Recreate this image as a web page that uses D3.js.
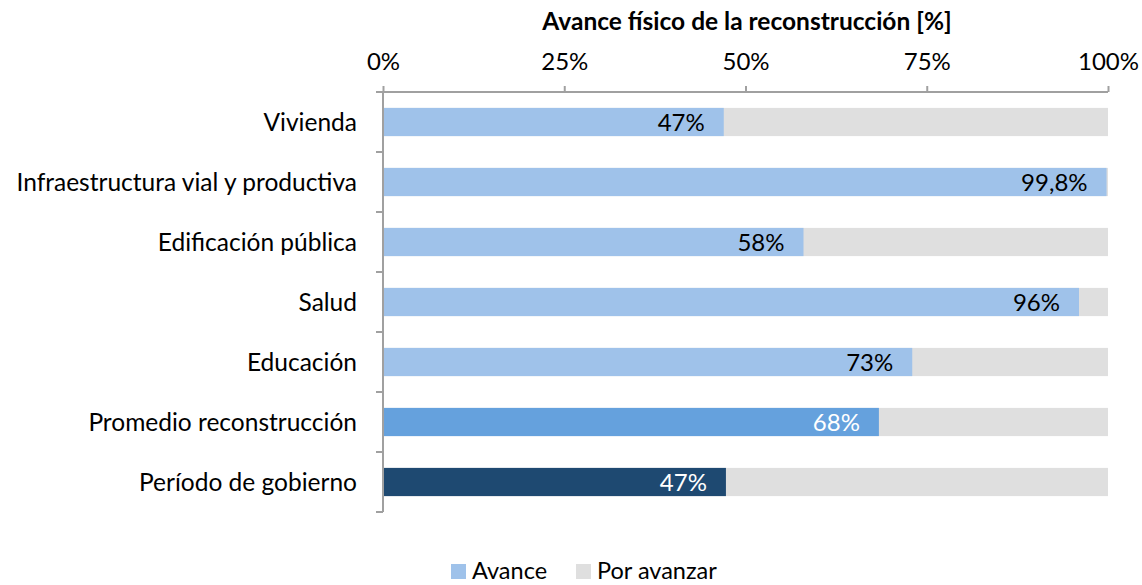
<!DOCTYPE html>
<html>
<head>
<meta charset="utf-8">
<script src="https://cdn.jsdelivr.net/npm/d3@7"></script>
<style>
  body { margin: 0; background: #fff; }
  text { font-family: Lato, "Open Sans", sans-serif; }
</style>
</head>
<body>
<div id="canvas"></div>
<script>
"use strict"

/* Data */
let categories = ["Vivienda", "Infraestructura vial y productiva", "Edificación pública",
    "Salud", "Educación", "Promedio reconstrucción", "Período de gobierno"];
let avance = [47, 99.8, 58, 96, 73, 68.4, 47.3];
let avanceLabels = ["47%", "99,8%", "58%", "96%", "73%", "68%", "47%"];
let xTicks = [0, 25, 50, 75, 100];
let legendNames = ["Avance", "Por avanzar"];

/* Drawing configuration */
let svgWidth = 1142;
let svgHeight = 585;
let margin = { top: 92, right: 34, bottom: 73, left: 383 };

let barColors = ["#9fc2ea", "#9fc2ea", "#9fc2ea", "#9fc2ea", "#9fc2ea", "#65a1dd", "#1e4971"];
let labelColors = ["#000", "#000", "#000", "#000", "#000", "#fff", "#fff"];
let restColor = "#dfdfdf";
let axisColor = "#a0a0a0";

let svg = d3.select("#canvas")
    .append("svg")
    .attr("width", svgWidth)
    .attr("height", svgHeight);

let xScale = d3.scaleLinear()
    .domain([0, 100])
    .range([margin.left, svgWidth - margin.right]);

let yScale = d3.scaleBand()
    .domain(categories)
    .range([margin.top, svgHeight - margin.bottom])
    .paddingInner(0.53)
    .paddingOuter(0.265);

// remaining part (gray) - full 100% background
svg.selectAll("rect.rest")
    .data(categories)
    .join("rect")
    .attr("class", "rest")
    .attr("x", xScale(0))
    .attr("y", function(d) { return yScale(d); })
    .attr("width", xScale(100) - xScale(0))
    .attr("height", yScale.bandwidth())
    .attr("fill", restColor);

// progress part
svg.selectAll("rect.avance")
    .data(categories)
    .join("rect")
    .attr("class", "avance")
    .attr("x", xScale(0))
    .attr("y", function(d) { return yScale(d); })
    .attr("width", function(d, i) { return xScale(avance[i]) - xScale(0); })
    .attr("height", yScale.bandwidth())
    .attr("fill", function(d, i) { return barColors[i]; });

// value labels, inside end
svg.selectAll("text.val")
    .data(categories)
    .join("text")
    .attr("class", "val")
    .attr("x", function(d, i) { return xScale(avance[i]) - 19; })
    .attr("y", function(d) { return yScale(d) + yScale.bandwidth() / 2; })
    .attr("dy", "0.36em")
    .attr("text-anchor", "end")
    .style("font-size", "24px")
    .attr("fill", function(d, i) { return labelColors[i]; })
    .text(function(d, i) { return avanceLabels[i]; });

/* Top axis */
let xAxis = d3.axisTop(xScale)
    .tickValues(xTicks)
    .tickSize(6)
    .tickPadding(16)
    .tickFormat(function(d) { return d + "%"; });

let gx = svg.append("g")
    .attr("transform", "translate(0," + margin.top + ")")
    .call(xAxis);
gx.select(".domain").attr("stroke", axisColor).attr("stroke-width", 2)
    .attr("d", "M" + xScale(0) + ",0H" + xScale(100));
gx.selectAll(".tick line").attr("stroke", axisColor).attr("stroke-width", 2);
gx.selectAll(".tick text")
    .attr("fill", "#000")
    .style("font-family", "Lato, sans-serif")
    .style("font-size", "24px");

/* Left axis with ticks between categories */
let step = yScale.step();
let boundaries = d3.range(categories.length + 1).map(function(i) {
    return yScale(categories[0]) - yScale.paddingOuter() * step + i * step;
});
let gy = svg.append("g");
gy.append("line")
    .attr("x1", margin.left).attr("x2", margin.left)
    .attr("y1", margin.top).attr("y2", boundaries[boundaries.length - 1])
    .attr("stroke", axisColor).attr("stroke-width", 2);
gy.selectAll("line.tk")
    .data(boundaries)
    .join("line")
    .attr("class", "tk")
    .attr("x1", margin.left - 7).attr("x2", margin.left)
    .attr("y1", function(d) { return d; })
    .attr("y2", function(d) { return d; })
    .attr("stroke", axisColor).attr("stroke-width", 2);

svg.selectAll("text.cat")
    .data(categories)
    .join("text")
    .attr("class", "cat")
    .attr("x", margin.left - 26)
    .attr("y", function(d) { return yScale(d) + yScale.bandwidth() / 2; })
    .attr("dy", "0.36em")
    .attr("text-anchor", "end")
    .style("font-size", "24.5px")
    .attr("fill", "#000")
    .text(function(d) { return d; });

/* Title */
svg.append("text")
    .attr("x", 747)
    .attr("y", 30)
    .attr("text-anchor", "middle")
    .style("font-size", "24.5px")
    .style("font-weight", "bold")
    .text("Avance físico de la reconstrucción [%]");

/* Legend */
let legendX = [451, 576];
let legendColors = [barColors[0], restColor];
for (let i = 0; i < legendNames.length; i++) {
    svg.append("rect")
        .attr("x", legendX[i])
        .attr("y", 564)
        .attr("width", 15)
        .attr("height", 15)
        .attr("fill", legendColors[i]);
    svg.append("text")
        .attr("x", legendX[i] + 21)
        .attr("y", 579)
        .style("font-size", "23.5px")
        .text(legendNames[i]);
}
</script>
</body>
</html>
